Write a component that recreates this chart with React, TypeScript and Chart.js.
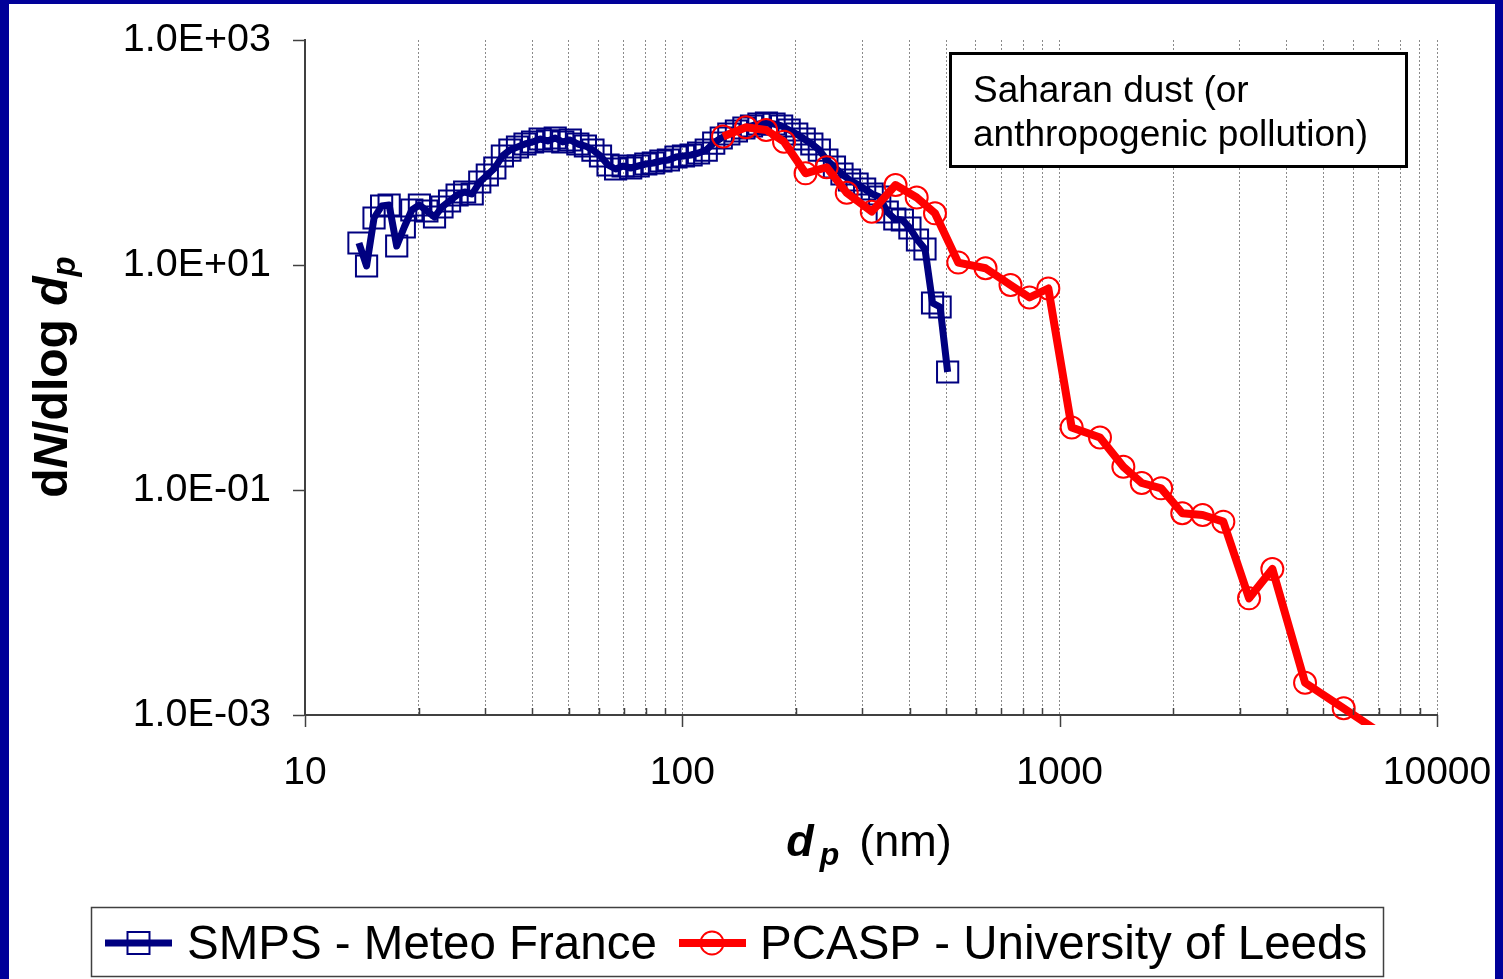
import React, { useEffect, useRef } from 'react';
import { Chart, registerables } from 'chart.js';

Chart.register(...registerables);

// ---------- data ----------
const smpsDiameter = [
  13.90, 14.56, 15.24, 15.96, 16.71, 17.50, 18.33, 19.19, 20.10, 21.04,
  22.04, 23.07, 24.16, 25.30, 26.49, 27.74, 29.05, 30.42, 31.85, 33.35,
  34.92, 36.57, 38.29, 40.10, 41.99, 43.96, 46.04, 48.21, 50.48, 52.86,
  55.35, 57.96, 60.69, 63.55, 66.55, 69.68, 72.97, 76.41, 80.01, 83.78,
  87.73, 91.86, 96.19, 100.7, 105.5, 110.4, 115.7, 121.1, 126.8, 132.8,
  139.1, 145.6, 152.5, 159.6, 167.1, 175.0, 183.3, 191.9, 201.0, 210.4,
  220.4, 230.7, 241.6, 253.0, 264.9, 277.4, 290.5, 304.2, 318.5, 333.5,
  349.2, 365.7, 382.9, 401.0, 419.9, 439.6, 460.4, 482.1, 504.8,
];
const smpsConc = [
  15.69, 9.80, 26.17, 33.45, 34.15, 14.75, 21.77, 30.82, 34.15, 30.20,
  26.71, 32.78, 37.06, 41.91, 44.56, 42.77, 54.67, 63.10, 72.82, 93.08,
  105.2, 111.9, 119.0, 124.0, 131.8, 126.6, 134.6, 124.0, 129.2, 119.0,
  114.2, 105.2, 93.08, 77.43, 71.35, 75.86, 72.82, 75.86, 79.03, 80.66,
  84.02, 85.77, 91.20, 93.08, 95.01, 98.98, 105.2, 121.4, 134.6, 146.0,
  155.3, 165.1, 172.0, 179.2, 182.9, 179.2, 172.0, 158.5, 146.0, 131.8,
  119.0, 105.2, 85.77, 74.32, 64.42, 56.95, 52.48, 47.38, 42.77, 40.22,
  29.59, 25.64, 25.12, 21.33, 16.68, 13.87, 4.594, 4.233, 1.119,
];
const pcaspDiameter = [
  128.2, 147.5, 166.7, 186.0, 212.1, 241.3, 272.7, 317.7, 367.3, 417.9,
  467.3, 538.6, 636.2, 740.8, 832.0, 933.1, 1076, 1279, 1475, 1650,
  1858, 2113, 2393, 2715, 3176, 3661, 4470, 5659, 7980,
];
const pcaspConc = [
  138.8, 167.5, 158.5, 124.7, 65.3, 73.9, 43.9, 29.8, 51.4, 39.8,
  28.8, 10.5, 9.35, 6.64, 5.14, 6.18, 0.3594, 0.293, 0.161, 0.1154,
  0.1035, 0.0621, 0.0600, 0.0523, 0.01089, 0.01986, 0.001936, 0.001147, 0.00053,
];
const seriesLabels = ['SMPS - Meteo France', 'PCASP - University of Leeds'];
const xTickLabels = ['10', '100', '1000', '10000'];
const xMinorMultipliers = [1, 2, 3, 4, 5, 6, 7, 8, 9];
const yTickValues = [1e-3, 1e-1, 1e1, 1e3];
const annotationLines = ['Saharan dust (or', 'anthropogenic pollution)'];

// ---------- helpers ----------
const FONT = "'Liberation Sans', Arial, sans-serif";
const NAVY = '#000080';
const RED = '#ff0000';

const isDecade = (v: number) => Math.abs(Math.log10(v) - Math.round(Math.log10(v))) < 1e-9;
const sciLabel = (v: number) => {
  const e = Math.round(Math.log10(v));
  return '1.0E' + (e < 0 ? '-' : '+') + String(Math.abs(e)).padStart(2, '0');
};

const xTickValues: number[] = (() => {
  const decades = xTickLabels.map(Number);
  const out: number[] = [];
  for (let i = 0; i < decades.length - 1; i++) {
    for (const m of xMinorMultipliers) out.push(decades[i] * m);
  }
  out.push(decades[decades.length - 1]);
  return out;
})();

type Seg = { text: string; font: string; dy?: number; gap?: number };

function segWidth(ctx: CanvasRenderingContext2D, segs: Seg[]) {
  let w = 0;
  for (const s of segs) {
    ctx.font = s.font;
    w += ctx.measureText(s.text).width + (s.gap || 0);
  }
  return w;
}
function drawSegs(ctx: CanvasRenderingContext2D, segs: Seg[], x: number, y: number) {
  let cx = x;
  for (const s of segs) {
    ctx.font = s.font;
    ctx.fillText(s.text, cx, y + (s.dy || 0));
    cx += ctx.measureText(s.text).width + (s.gap || 0);
  }
}

const overlayPlugin = {
  id: 'overlay',
  afterDraw(chart: any) {
    const ctx: CanvasRenderingContext2D = chart.ctx;
    const xs = chart.scales.x;
    const area = chart.chartArea;
    ctx.save();

    // x-axis tick marks: majors outward, minors inward
    ctx.strokeStyle = '#404040';
    ctx.lineWidth = 1.5;
    for (const t of xs.ticks) {
      const px = Math.round(xs.getPixelForValue(t.value)) + 0.5;
      ctx.beginPath();
      if (isDecade(t.value)) {
        ctx.moveTo(px, area.bottom);
        ctx.lineTo(px, area.bottom + 12);
      } else {
        ctx.moveTo(px, area.bottom);
        ctx.lineTo(px, area.bottom - 7);
      }
      ctx.stroke();
    }

    ctx.fillStyle = '#000';
    ctx.textBaseline = 'alphabetic';
    ctx.textAlign = 'left';

    // y-axis title (rotated)
    const ySegs: Seg[] = [
      { text: 'd', font: `bold 48px ${FONT}` },
      { text: 'N', font: `italic bold 48px ${FONT}` },
      { text: '/dlog ', font: `bold 48px ${FONT}` },
      { text: 'd', font: `italic bold 48px ${FONT}` },
      { text: 'p', font: `italic bold 33px ${FONT}`, dy: 8 },
    ];
    const yw = segWidth(ctx, ySegs);
    ctx.save();
    ctx.translate(67, 377);
    ctx.rotate(-Math.PI / 2);
    drawSegs(ctx, ySegs, -yw / 2, 0);
    ctx.restore();

    // x-axis title
    const xSegs: Seg[] = [
      { text: 'd', font: `italic bold 45px ${FONT}`, gap: 6 },
      { text: 'p', font: `italic bold 32px ${FONT}`, dy: 9, gap: 20 },
      { text: '(nm)', font: `45px ${FONT}` },
    ];
    const xw = segWidth(ctx, xSegs);
    drawSegs(ctx, xSegs, 869 - xw / 2, 856);

    // annotation box
    ctx.fillStyle = '#fff';
    ctx.fillRect(950, 53, 457, 114);
    ctx.strokeStyle = '#000';
    ctx.lineWidth = 3;
    ctx.strokeRect(950.5, 53.5, 456, 113);
    ctx.fillStyle = '#000';
    ctx.font = `37px ${FONT}`;
    ctx.fillText(annotationLines[0], 973, 102);
    ctx.fillText(annotationLines[1], 973, 146);

    // legend
    ctx.strokeStyle = '#404040';
    ctx.lineWidth = 1.5;
    ctx.strokeRect(91.5, 907.5, 1292, 69);
    const ly = 943;
    ctx.strokeStyle = NAVY;
    ctx.lineWidth = 7;
    ctx.beginPath();
    ctx.moveTo(105, ly);
    ctx.lineTo(172, ly);
    ctx.stroke();
    ctx.lineWidth = 2;
    ctx.strokeRect(127.5, ly - 11, 22, 22);
    ctx.strokeStyle = RED;
    ctx.lineWidth = 8;
    ctx.beginPath();
    ctx.moveTo(679, ly);
    ctx.lineTo(746, ly);
    ctx.stroke();
    ctx.lineWidth = 2;
    ctx.beginPath();
    ctx.arc(712, ly, 11.5, 0, Math.PI * 2);
    ctx.stroke();
    ctx.fillStyle = '#000';
    ctx.font = `47.5px ${FONT}`;
    ctx.fillText(seriesLabels[0], 187, 959);
    ctx.fillText(seriesLabels[1], 760, 959);

    ctx.restore();
  },
};

export default function App() {
  const ref = useRef<HTMLCanvasElement>(null);
  useEffect(() => {
    document.body.style.margin = '0';
    Chart.defaults.font.family = FONT;
    const chart = new Chart(ref.current as HTMLCanvasElement, {
      type: 'line',
      data: {
        datasets: [
          {
            label: seriesLabels[0],
            data: smpsDiameter.map((d, i) => ({ x: d, y: smpsConc[i] })),
            borderColor: NAVY,
            borderWidth: 7,
            borderJoinStyle: 'round',
            pointStyle: 'rect',
            pointRadius: 15,
            pointBorderWidth: 2,
            pointBorderColor: NAVY,
            pointBackgroundColor: 'rgba(0,0,0,0)',
            tension: 0,
            order: 1,
          },
          {
            label: seriesLabels[1],
            data: pcaspDiameter.map((d, i) => ({ x: d, y: pcaspConc[i] })),
            borderColor: RED,
            borderWidth: 8,
            borderJoinStyle: 'round',
            pointStyle: 'circle',
            pointRadius: 11,
            pointBorderWidth: 2,
            pointBorderColor: RED,
            pointBackgroundColor: 'rgba(0,0,0,0)',
            tension: 0,
            order: 0,
            clip: { left: 10, top: 10, right: 10, bottom: 10 },
          },
        ] as any,
      },
      options: {
        animation: false,
        responsive: false,
        devicePixelRatio: 1,
        layout: { padding: { left: 0, top: 40, right: 66, bottom: 0 } },
        plugins: {
          legend: { display: false },
          tooltip: { enabled: false },
          title: { display: false },
        },
        scales: {
          x: {
            type: 'logarithmic',
            min: 10,
            max: 10000,
            afterBuildTicks: (s: any) => {
              s.ticks = xTickValues.map((v) => ({ value: v }));
            },
            afterFit: (s: any) => {
              s.height = 264;
              s.paddingLeft = 0;
              s.paddingRight = 0;
            },
            ticks: {
              autoSkip: false,
              maxRotation: 0,
              minRotation: 0,
              padding: 35,
              color: '#000',
              font: { size: 39, family: FONT },
              callback: (v: any) => {
                const lab = xTickLabels.find((l) => Number(l) === Number(v));
                return lab ?? '';
              },
            },
            grid: {
              display: true,
              drawTicks: false,
              color: '#8a8a8a',
              lineWidth: 1,
            },
            border: { display: true, color: '#404040', width: 2, dash: [2, 2] },
          },
          y: {
            type: 'logarithmic',
            min: 1e-3,
            max: 1e3,
            afterBuildTicks: (s: any) => {
              s.ticks = yTickValues.map((v) => ({ value: v }));
            },
            afterFit: (s: any) => {
              s.width = 305;
              s.paddingTop = 0;
              s.paddingBottom = 0;
            },
            ticks: {
              padding: 22,
              color: '#000',
              font: { size: 39.5, family: FONT },
              callback: (v: any) => sciLabel(Number(v)),
            },
            grid: {
              display: true,
              drawOnChartArea: false,
              drawTicks: true,
              tickLength: 12,
              tickColor: '#404040',
              tickWidth: 1.5,
            },
            border: { display: true, color: '#404040', width: 2 },
          },
        },
      } as any,
      plugins: [overlayPlugin],
    });
    return () => chart.destroy();
  }, []);

  return (
    <div style={{ position: 'relative', width: 1503, height: 979, background: '#000099', overflow: 'hidden' }}>
      <div style={{ position: 'absolute', left: 9, top: 4, width: 1486, height: 975, background: '#ffffff' }} />
      <canvas
        ref={ref}
        width={1503}
        height={979}
        style={{ position: 'absolute', left: 0, top: 0, width: 1503, height: 979 }}
      />
    </div>
  );
}
